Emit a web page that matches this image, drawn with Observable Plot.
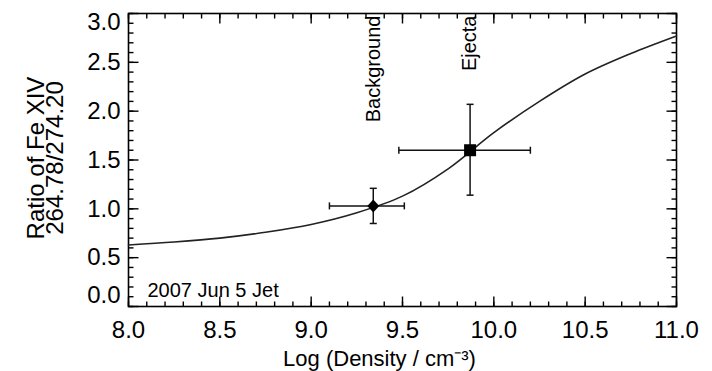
<!DOCTYPE html>
<html>
<head>
<meta charset="utf-8">
<script src="https://cdn.jsdelivr.net/npm/d3@7"></script>
<script src="https://cdn.jsdelivr.net/npm/@observablehq/plot@0.6"></script>
<style>
  html, body { margin: 0; padding: 0; background: #fff; }
  #chart svg { display: block; }
</style>
</head>
<body>
<div id="chart"></div>
<script>
// Model curve: Fe XIV 264.78/274.20 ratio vs log density
const curveLogN = [8.0, 8.25, 8.5, 8.75, 9.0, 9.25, 9.5, 9.75, 10.0, 10.25, 10.5, 10.75, 11.0];
const curveRatio = [0.63, 0.66, 0.70, 0.76, 0.84, 0.96, 1.13, 1.41, 1.78, 2.10, 2.38, 2.59, 2.77];

// Measured points
const pointNames = ["Background", "Ejecta"];
const pointLogN = [9.34, 9.87];
const pointRatio = [1.03, 1.60];
const pointLogNLow = [9.10, 9.48];
const pointLogNHigh = [9.51, 10.20];
const pointRatioLow = [0.85, 1.14];
const pointRatioHigh = [1.21, 2.07];

// Axis domains and tick labels
const xDomain = [8, 11];
const yDomain = [0, 3];
const xTickValues = [8.0, 8.5, 9.0, 9.5, 10.0, 10.5, 11.0];
const yTickValues = [0.0, 0.5, 1.0, 1.5, 2.0, 2.5, 3.0];
const xMinorTicks = d3.range(80, 111).map(d => d / 10);
const yMinorTicks = d3.range(0, 31).map(d => d / 10);

const annotation = "2007 Jun 5 Jet";
const xTitle = "Log (Density / cm\u207B\u00B3)";
const yTitle = "Ratio of Fe XIV\n264.78/274.20";

const curve = curveLogN.map((x, i) => ({x, y: curveRatio[i]}));
const pts = pointNames.map((name, i) => ({
  name, x: pointLogN[i], y: pointRatio[i],
  xLo: pointLogNLow[i], xHi: pointLogNHigh[i],
  yLo: pointRatioLow[i], yHi: pointRatioHigh[i]
}));

const W = 712, H = 371;
const mL = 128, mR = 36, mT = 13, mB = 65;
const innerW = W - mL - mR, innerH = H - mT - mB;
const majorLen = 10, minorLen = 5;
// pixel tick lengths expressed in each scale's units
const xPerPx = (xDomain[1] - xDomain[0]) / innerW;
const yPerPx = (yDomain[1] - yDomain[0]) / innerH;

const bottomTop = (vals, len) => vals.flatMap(v => [
  {x1: v, x2: v, y1: yDomain[0], y2: yDomain[0] + len * yPerPx},
  {x1: v, x2: v, y1: yDomain[1], y2: yDomain[1] - len * yPerPx}
]);
const leftRight = (vals, len) => vals.flatMap(v => [
  {y1: v, y2: v, x1: xDomain[0], x2: xDomain[0] + len * xPerPx},
  {y1: v, y2: v, x1: xDomain[1], x2: xDomain[1] - len * xPerPx}
]);
const tickSegs = [
  ...bottomTop(xMinorTicks, minorLen), ...bottomTop(xTickValues, majorLen),
  ...leftRight(yMinorTicks, minorLen), ...leftRight(yTickValues, majorLen)
];

const capV = {draw(ctx) { ctx.moveTo(0, -3.5); ctx.lineTo(0, 3.5); }};
const capH = {draw(ctx) { ctx.moveTo(-3.5, 0); ctx.lineTo(3.5, 0); }};
const diamond = {draw(ctx) { ctx.moveTo(0, -6.5); ctx.lineTo(6, 0); ctx.lineTo(0, 6.5); ctx.lineTo(-6, 0); ctx.closePath(); }};
const square = {draw(ctx) { ctx.rect(-6, -6, 12, 12); }};

const fmt = d => d.toFixed(1);
const font = "'Liberation Sans', Arial, Helvetica, sans-serif";

const chart = Plot.plot({
  width: W, height: H,
  marginLeft: mL, marginRight: mR, marginTop: mT, marginBottom: mB,
  style: {fontFamily: font, background: "#fff", color: "#000"},
  x: {domain: xDomain},
  y: {domain: yDomain},
  marks: [
    // inward ticks on all four sides
    Plot.link(tickSegs, {x1: "x1", x2: "x2", y1: "y1", y2: "y2", stroke: "#000", strokeWidth: 1.4}),
    Plot.frame({stroke: "#000", strokeWidth: 1.6}),
    // tick labels
    Plot.axisX(xTickValues, {anchor: "bottom", tickSize: 0, tickPadding: 14, fontSize: 24, tickFormat: fmt, label: null}),
    Plot.axisY(yTickValues.filter(d => d > yDomain[0] && d < yDomain[1]), {anchor: "left", tickSize: 0, tickPadding: 8, fontSize: 24, tickFormat: fmt, label: null}),
    Plot.axisY([yDomain[1]], {anchor: "left", tickSize: 0, tickPadding: 8, fontSize: 24, tickFormat: fmt, label: null, dy: 9}),
    Plot.axisY([yDomain[0]], {anchor: "left", tickSize: 0, tickPadding: 8, fontSize: 24, tickFormat: fmt, label: null, dy: -11}),
    // model curve
    Plot.line(curve, {x: "x", y: "y", curve: "catmull-rom", stroke: "#222", strokeWidth: 1.6}),
    // error bars
    Plot.link(pts, {x1: "xLo", x2: "xHi", y1: "y", y2: "y", stroke: "#111", strokeWidth: 1.5}),
    Plot.link(pts, {x1: "x", x2: "x", y1: "yLo", y2: "yHi", stroke: "#111", strokeWidth: 1.5}),
    Plot.dot(pts, {x: "xLo", y: "y", symbol: capV, stroke: "#111", fill: "none", strokeWidth: 1.5}),
    Plot.dot(pts, {x: "xHi", y: "y", symbol: capV, stroke: "#111", fill: "none", strokeWidth: 1.5}),
    Plot.dot(pts, {x: "x", y: "yLo", symbol: capH, stroke: "#111", fill: "none", strokeWidth: 1.5}),
    Plot.dot(pts, {x: "x", y: "yHi", symbol: capH, stroke: "#111", fill: "none", strokeWidth: 1.5}),
    // markers
    Plot.dot(pts.filter(d => d.name === "Background"), {x: "x", y: "y", symbol: diamond, fill: "#000", stroke: "none"}),
    Plot.dot(pts.filter(d => d.name === "Ejecta"), {x: "x", y: "y", symbol: square, fill: "#000", stroke: "none"}),
    // rotated point labels
    Plot.text(pts, {x: "x", text: "name", frameAnchor: "top", rotate: -90, textAnchor: "end", lineAnchor: "middle", dy: 2, fontSize: 20, fill: "#000"}),
    // annotation
    Plot.text([annotation], {text: d => d, frameAnchor: "bottom-left", textAnchor: "start", lineAnchor: "middle", dx: 19, dy: -16, fontSize: 20, fill: "#000"}),
    // axis titles
    Plot.text([xTitle], {text: d => d, frameAnchor: "bottom", lineAnchor: "middle", dx: -23, dy: 52, fontSize: 22, fill: "#000"}),
    Plot.text([yTitle], {text: d => d, frameAnchor: "left", rotate: -90, lineAnchor: "middle", textAnchor: "middle", lineHeight: 0.8, dx: -81, dy: -2, fontSize: 24, fill: "#000"})
  ]
});

document.getElementById("chart").appendChild(chart);
</script>
</body>
</html>
